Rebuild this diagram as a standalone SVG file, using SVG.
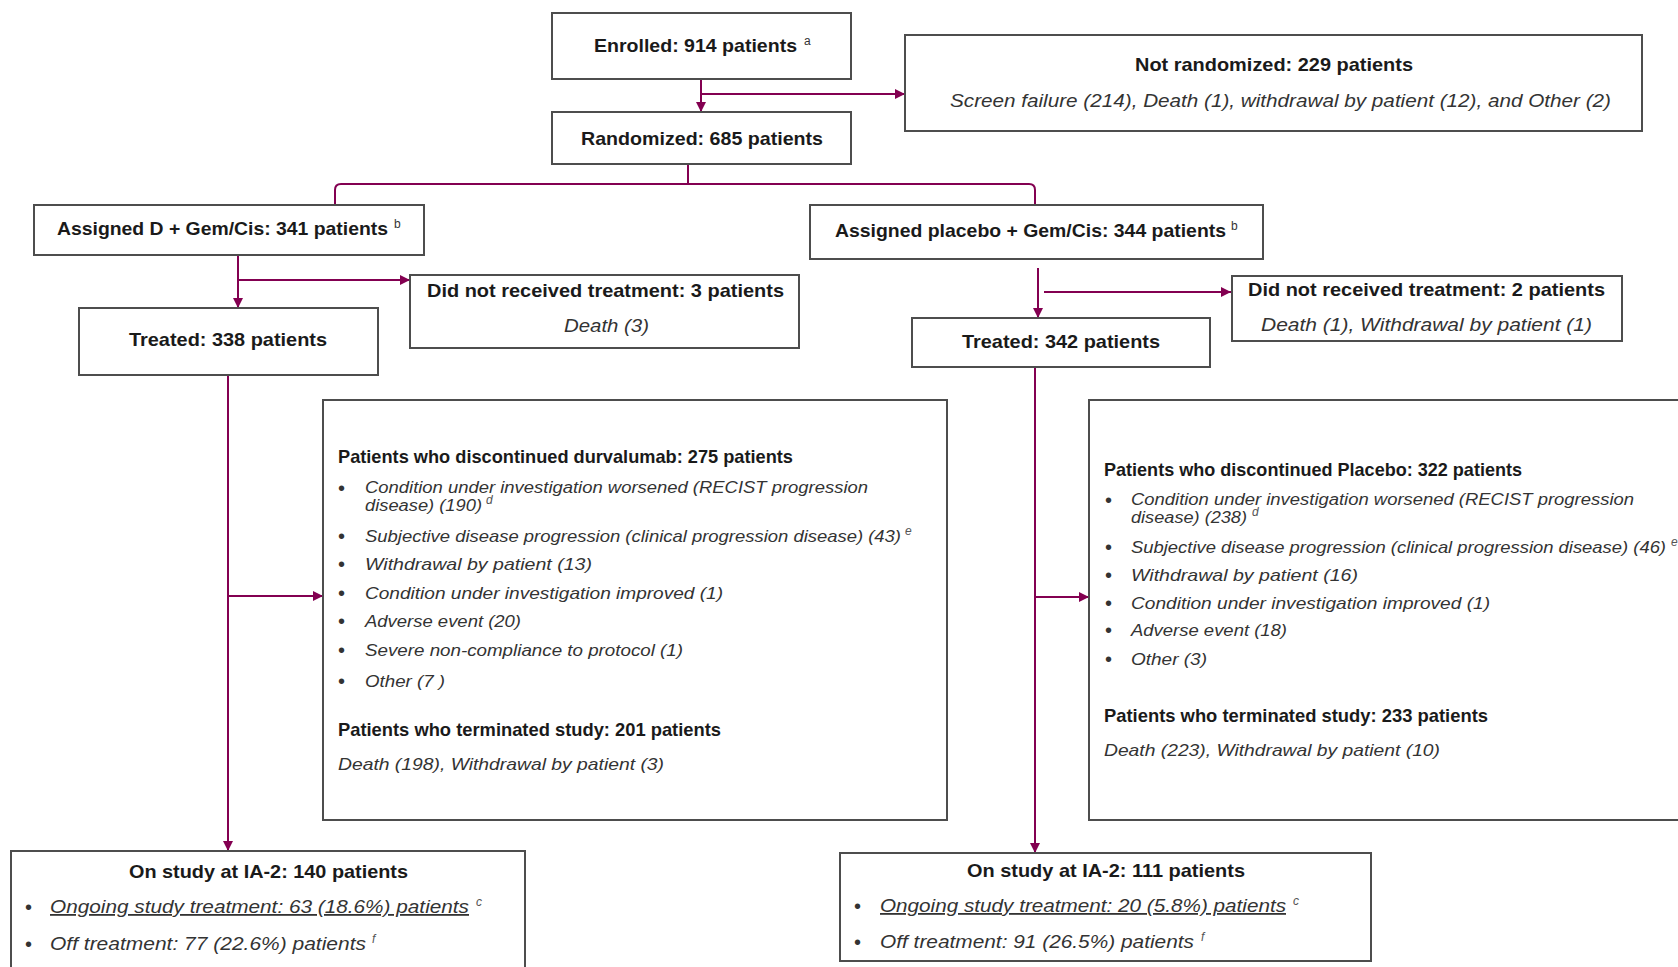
<svg xmlns="http://www.w3.org/2000/svg" width="1678" height="967" viewBox="0 0 1678 967">
<style>
.box{fill:#fff;stroke:#4d4d4d;stroke-width:2}
.b{font-family:"Liberation Sans",Arial,sans-serif;font-weight:bold;font-size:18.5px;fill:#1a1a1a}
.i{font-family:"Liberation Sans",Arial,sans-serif;font-style:italic;font-size:17px;fill:#333}
.iw{font-family:"Liberation Sans",Arial,sans-serif;font-style:italic;font-size:16px;fill:#333}
.ib{font-family:"Liberation Sans",Arial,sans-serif;font-style:italic;font-size:18px;fill:#333}
.bu{font-family:"Liberation Sans",Arial,sans-serif;font-size:20px;fill:#333}
.sup{font-family:"Liberation Sans",Arial,sans-serif;font-size:12px;fill:#333}
.supi{font-family:"Liberation Sans",Arial,sans-serif;font-style:italic;font-size:12px;fill:#555}
.c{fill:none;stroke:#830051;stroke-width:2}
</style>
<defs>
<marker id="ah" viewBox="0 0 10 10" refX="10" refY="5" markerWidth="5" markerHeight="5" orient="auto" markerUnits="strokeWidth">
<path d="M0,0 L10,5 L0,10 z" fill="#830051"/>
</marker>
</defs>
<rect width="1678" height="967" fill="#fff"/>

<g id="connectors">
<path class="c" d="M701,79 V112" marker-end="url(#ah)"/>
<path class="c" d="M701,94 H905" marker-end="url(#ah)"/>
<path class="c" d="M688,164 V184"/>
<path class="c" d="M335,205 V190 Q335,184 341,184 H1029 Q1035,184 1035,190 V205"/>
<path class="c" d="M238,255 V308" marker-end="url(#ah)"/>
<path class="c" d="M238,280 H410" marker-end="url(#ah)"/>
<path class="c" d="M1038,268 V318" marker-end="url(#ah)"/>
<path class="c" d="M1044,292 H1231" marker-end="url(#ah)"/>
<path class="c" d="M228,375 V851" marker-end="url(#ah)"/>
<path class="c" d="M228,596 H323" marker-end="url(#ah)"/>
<path class="c" d="M1035,367 V853" marker-end="url(#ah)"/>
<path class="c" d="M1035,597 H1089" marker-end="url(#ah)"/>
</g>

<g id="enrolled">
<rect class="box" x="552" y="13" width="299" height="66"/>
<text class="b" x="594" y="52" textLength="203" lengthAdjust="spacingAndGlyphs">Enrolled: 914 patients</text>
<text class="sup" x="804" y="45">a</text>
</g>

<g id="not-randomized">
<rect class="box" x="905" y="35" width="737" height="96"/>
<text class="b" x="1135" y="71" textLength="278" lengthAdjust="spacingAndGlyphs">Not randomized: 229 patients</text>
<text class="ib" x="950" y="107" textLength="661" lengthAdjust="spacingAndGlyphs">Screen failure (214), Death (1), withdrawal by patient (12), and Other (2)</text>
</g>

<g id="randomized">
<rect class="box" x="552" y="112" width="299" height="52"/>
<text class="b" x="581" y="145" textLength="242" lengthAdjust="spacingAndGlyphs">Randomized: 685 patients</text>
</g>

<g id="assigned-d">
<rect class="box" x="34" y="205" width="390" height="50"/>
<text class="b" x="57" y="235" textLength="331" lengthAdjust="spacingAndGlyphs">Assigned D + Gem/Cis: 341 patients</text>
<text class="sup" x="394" y="228">b</text>
</g>

<g id="assigned-placebo">
<rect class="box" x="810" y="205" width="453" height="54"/>
<text class="b" x="835" y="237" textLength="391" lengthAdjust="spacingAndGlyphs">Assigned placebo + Gem/Cis: 344 patients</text>
<text class="sup" x="1231" y="230">b</text>
</g>

<g id="no-treatment-d">
<rect class="box" x="410" y="275" width="389" height="73"/>
<text class="b" x="427" y="297" textLength="357" lengthAdjust="spacingAndGlyphs">Did not received treatment: 3 patients</text>
<text class="ib" x="564" y="332" textLength="85" lengthAdjust="spacingAndGlyphs">Death (3)</text>
</g>

<g id="treated-d">
<rect class="box" x="79" y="308" width="299" height="67"/>
<text class="b" x="129" y="346" textLength="198" lengthAdjust="spacingAndGlyphs">Treated: 338 patients</text>
</g>

<g id="no-treatment-placebo">
<rect class="box" x="1232" y="276" width="390" height="65"/>
<text class="b" x="1248" y="296" textLength="357" lengthAdjust="spacingAndGlyphs">Did not received treatment: 2 patients</text>
<text class="ib" x="1261" y="331" textLength="331" lengthAdjust="spacingAndGlyphs">Death (1), Withdrawal by patient (1)</text>
</g>

<g id="treated-placebo">
<rect class="box" x="912" y="318" width="298" height="49"/>
<text class="b" x="962" y="348" textLength="198" lengthAdjust="spacingAndGlyphs">Treated: 342 patients</text>
</g>

<g id="discontinued-d">
<rect class="box" x="323" y="400" width="624" height="420"/>
<text class="b" x="338" y="463" textLength="455" lengthAdjust="spacingAndGlyphs">Patients who discontinued durvalumab: 275 patients</text>
<text class="bu" x="338" y="495">•</text>
<text class="iw" x="365" y="493" textLength="503" lengthAdjust="spacingAndGlyphs">Condition under investigation worsened (RECIST progression</text>
<text class="iw" x="365" y="511" textLength="117" lengthAdjust="spacingAndGlyphs">disease) (190)</text>
<text class="supi" x="486" y="504">d</text>
<text class="bu" x="338" y="543">•</text>
<text class="i" x="365" y="542" textLength="536" lengthAdjust="spacingAndGlyphs">Subjective disease progression (clinical progression disease) (43)</text>
<text class="supi" x="905" y="535">e</text>
<text class="bu" x="338" y="571">•</text>
<text class="i" x="365" y="570" textLength="227" lengthAdjust="spacingAndGlyphs">Withdrawal by patient (13)</text>
<text class="bu" x="338" y="600">•</text>
<text class="i" x="365" y="599" textLength="358" lengthAdjust="spacingAndGlyphs">Condition under investigation improved (1)</text>
<text class="bu" x="338" y="628">•</text>
<text class="i" x="365" y="627" textLength="156" lengthAdjust="spacingAndGlyphs">Adverse event (20)</text>
<text class="bu" x="338" y="657">•</text>
<text class="i" x="365" y="656" textLength="318" lengthAdjust="spacingAndGlyphs">Severe non-compliance to protocol (1)</text>
<text class="bu" x="338" y="688">•</text>
<text class="i" x="365" y="687" textLength="80" lengthAdjust="spacingAndGlyphs">Other (7 )</text>
<text class="b" x="338" y="736" textLength="383" lengthAdjust="spacingAndGlyphs">Patients who terminated study: 201 patients</text>
<text class="i" x="338" y="770" textLength="326" lengthAdjust="spacingAndGlyphs">Death (198), Withdrawal by patient (3)</text>
</g>

<g id="discontinued-placebo">
<rect class="box" x="1089" y="400" width="600" height="420"/>
<text class="b" x="1104" y="476" textLength="418" lengthAdjust="spacingAndGlyphs">Patients who discontinued Placebo: 322 patients</text>
<text class="bu" x="1105" y="507">•</text>
<text class="iw" x="1131" y="505" textLength="503" lengthAdjust="spacingAndGlyphs">Condition under investigation worsened (RECIST progression</text>
<text class="iw" x="1131" y="523" textLength="116" lengthAdjust="spacingAndGlyphs">disease) (238)</text>
<text class="supi" x="1252" y="516">d</text>
<text class="bu" x="1105" y="554">•</text>
<text class="i" x="1131" y="553" textLength="535" lengthAdjust="spacingAndGlyphs">Subjective disease progression (clinical progression disease) (46)</text>
<text class="supi" x="1671" y="546">e</text>
<text class="bu" x="1105" y="582">•</text>
<text class="i" x="1131" y="581" textLength="227" lengthAdjust="spacingAndGlyphs">Withdrawal by patient (16)</text>
<text class="bu" x="1105" y="610">•</text>
<text class="i" x="1131" y="609" textLength="359" lengthAdjust="spacingAndGlyphs">Condition under investigation improved (1)</text>
<text class="bu" x="1105" y="637">•</text>
<text class="i" x="1131" y="636" textLength="156" lengthAdjust="spacingAndGlyphs">Adverse event (18)</text>
<text class="bu" x="1105" y="666">•</text>
<text class="i" x="1131" y="665" textLength="76" lengthAdjust="spacingAndGlyphs">Other (3)</text>
<text class="b" x="1104" y="722" textLength="384" lengthAdjust="spacingAndGlyphs">Patients who terminated study: 233 patients</text>
<text class="i" x="1104" y="756" textLength="336" lengthAdjust="spacingAndGlyphs">Death (223), Withdrawal by patient (10)</text>
</g>

<g id="on-study-d">
<rect class="box" x="11" y="851" width="514" height="120"/>
<text class="b" x="129" y="878" textLength="279" lengthAdjust="spacingAndGlyphs">On study at IA-2: 140 patients</text>
<text class="bu" x="25" y="914">•</text>
<text class="ib" x="50" y="913" textLength="419" lengthAdjust="spacingAndGlyphs" text-decoration="underline">Ongoing study treatment: 63 (18.6%) patients</text>
<text class="supi" x="476" y="906">c</text>
<text class="bu" x="25" y="951">•</text>
<text class="ib" x="50" y="950" textLength="316" lengthAdjust="spacingAndGlyphs">Off treatment: 77 (22.6%) patients</text>
<text class="supi" x="372" y="943">f</text>
</g>

<g id="on-study-placebo">
<rect class="box" x="840" y="853" width="531" height="108"/>
<text class="b" x="967" y="877" textLength="278" lengthAdjust="spacingAndGlyphs">On study at IA-2: 111 patients</text>
<text class="bu" x="854" y="913">•</text>
<text class="ib" x="880" y="912" textLength="406" lengthAdjust="spacingAndGlyphs" text-decoration="underline">Ongoing study treatment: 20 (5.8%) patients</text>
<text class="supi" x="1293" y="905">c</text>
<text class="bu" x="854" y="949">•</text>
<text class="ib" x="880" y="948" textLength="314" lengthAdjust="spacingAndGlyphs">Off treatment: 91 (26.5%) patients</text>
<text class="supi" x="1201" y="941">f</text>
</g>
</svg>
